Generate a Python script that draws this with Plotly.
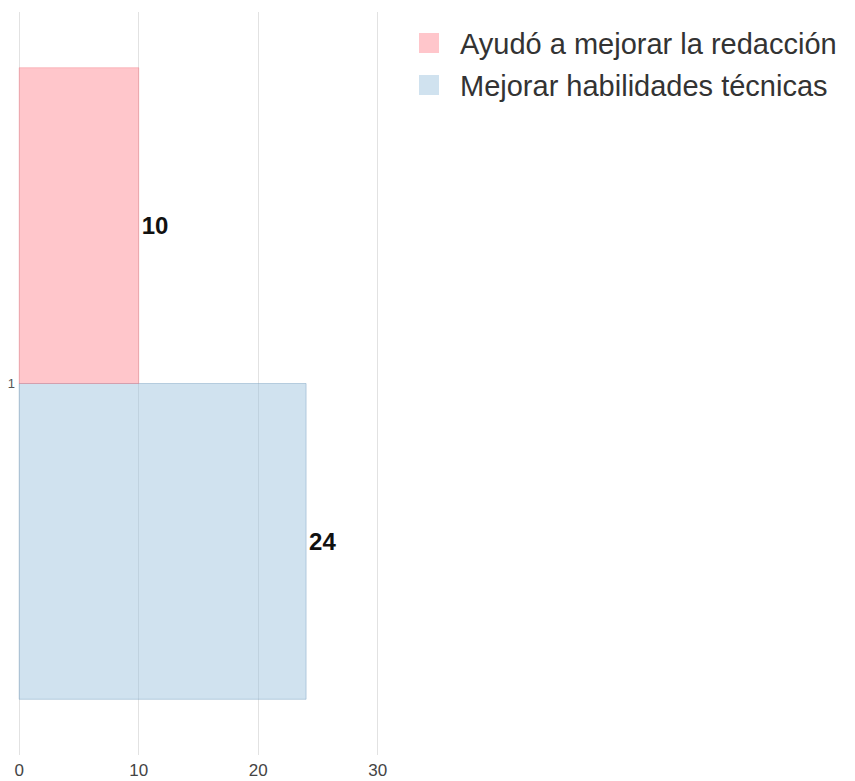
import plotly.graph_objects as go

# Survey response counts, one category row
categories = ["1"]
series_names = ["Ayudó a mejorar la redacción", "Mejorar habilidades técnicas"]
redaccion = [10]
tecnicas = [24]
x_ticks = [0, 10, 20, 30]

red_fill = "rgba(255,120,130,0.42)"
red_line = "rgba(240,110,120,0.35)"
blue_fill = "rgba(150,190,220,0.45)"
blue_line = "rgba(120,160,190,0.45)"

W, H = 855, 781
M = dict(l=18, r=476, t=12, b=26)
plot_w = W - M["l"] - M["r"]
plot_h = H - M["t"] - M["b"]


def px_to_paper(px, py):
    return (px - M["l"]) / plot_w, (H - M["b"] - py) / plot_h


label_font = dict(family="Liberation Sans, Arial", size=24, color="#111")

fig = go.Figure()

# Horizontal bars: first trace sits lowest in the group, so blue goes first
fig.add_trace(go.Bar(
    y=categories, x=tecnicas, orientation="h", name=series_names[1],
    marker=dict(color=blue_fill, line=dict(color=blue_line, width=1)),
    text=[str(v) for v in tecnicas], textposition="outside",
    textfont=label_font, texttemplate="<b>%{text}</b>",
    cliponaxis=False, showlegend=False,
))
fig.add_trace(go.Bar(
    y=categories, x=redaccion, orientation="h", name=series_names[0],
    marker=dict(color=red_fill, line=dict(color=red_line, width=1)),
    text=[str(v) for v in redaccion], textposition="outside",
    textfont=label_font, texttemplate="<b>%{text}</b>",
    cliponaxis=False, showlegend=False,
))

# Legend drawn as swatches + labels to the right of the plot area
for i, (name, col) in enumerate([(series_names[0], red_fill), (series_names[1], blue_fill)]):
    cy = 43 + i * 42
    x0, y0 = px_to_paper(419, cy - 10)
    x1, y1 = px_to_paper(439, cy + 10)
    fig.add_shape(type="rect", xref="paper", yref="paper",
                  x0=x0, x1=x1, y0=y1, y1=y0,
                  fillcolor=col, line=dict(width=0))
    tx, ty = px_to_paper(458, cy + 1)
    fig.add_annotation(xref="paper", yref="paper", x=tx, y=ty,
                       xanchor="left", yanchor="middle", showarrow=False,
                       text=name,
                       font=dict(family="Liberation Sans, Arial", size=29, color="#333"))

fig.update_layout(
    width=W, height=H,
    margin=M,
    paper_bgcolor="white", plot_bgcolor="white",
    barmode="group", bargap=0.15, bargroupgap=0,
    font=dict(family="Liberation Sans, Arial", color="#333"),
    showlegend=False,
    xaxis=dict(
        range=[-0.1, 30.1], tickvals=x_ticks, ticktext=[str(t) for t in x_ticks],
        showgrid=True, gridcolor="#e2e2e2", gridwidth=1,
        zeroline=False, showline=False, automargin=False,
        ticks="", ticklabelstandoff=3,
        tickfont=dict(size=17, color="#444"),
    ),
    yaxis=dict(
        type="category", showgrid=False, zeroline=False, showline=False,
        automargin=False,
        tickfont=dict(size=13, color="#555"), ticks="", ticklabelstandoff=2,
    ),
)

fig.write_html("out.html")
